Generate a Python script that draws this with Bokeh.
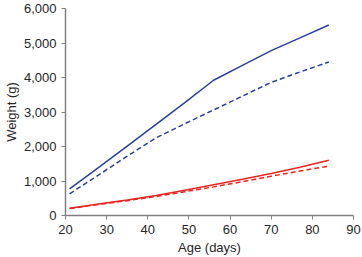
from bokeh.plotting import figure
from bokeh.models import Range1d, NumeralTickFormatter, FixedTicker, Title
from bokeh.embed import file_html
from bokeh.resources import INLINE

days = [21, 28, 35, 42, 49, 56, 63, 70, 77, 84]
blue_solid = [770, 1390, 2010, 2640, 3270, 3920, 4350, 4780, 5150, 5520]
blue_dashed = [630, 1170, 1720, 2250, 2660, 3060, 3460, 3860, 4160, 4450]
red_solid = [210, 330, 450, 580, 730, 890, 1050, 1220, 1400, 1600]
red_dashed = [200, 320, 430, 550, 690, 830, 980, 1140, 1290, 1430]
x_ticks = [20, 30, 40, 50, 60, 70, 80, 90]
y_ticks = [0, 1000, 2000, 3000, 4000, 5000, 6000]
x_title = "Age (days)"
y_title = "Weight (g)"

BLUE = "#2b3ea0"
RED = "#e8261f"
TXT = "#262626"

p = figure(width=362, height=257, output_backend="svg", toolbar_location=None,
           x_range=Range1d(20, 90), y_range=Range1d(0, 6000),
           min_border_left=64, min_border_right=9, min_border_top=8, min_border_bottom=42)
p.outline_line_color = None
p.grid.grid_line_color = None
p.background_fill_color = "white"
p.border_fill_color = "white"

p.line(days, blue_solid, line_color=BLUE, line_width=1.5)
p.line(days, blue_dashed, line_color=BLUE, line_width=1.5, line_dash="5 3")
p.line(days, red_solid, line_color=RED, line_width=1.5)
p.line(days, red_dashed, line_color=RED, line_width=1.5, line_dash="5 3")

for ax in (p.xaxis[0], p.yaxis[0]):
    ax.axis_line_color = "#808080"
    ax.axis_line_width = 1.5
    ax.major_tick_line_color = "#808080"
    ax.major_tick_line_width = 1
    ax.major_tick_out = 4
    ax.major_tick_in = 0
    ax.minor_tick_line_color = None
    ax.major_label_text_font = "Liberation Sans"
    ax.major_label_text_font_size = "13px"
    ax.major_label_text_color = TXT
    ax.major_label_standoff = 5

p.xaxis.ticker = FixedTicker(ticks=x_ticks)
p.yaxis.ticker = FixedTicker(ticks=y_ticks)
p.yaxis.formatter = NumeralTickFormatter(format="0,0")

for txt, loc, so in ((x_title, "below", 2), (y_title, "left", 3)):
    p.add_layout(Title(text=txt, align="center", standoff=so,
                       text_font="Liberation Sans", text_font_size="13px",
                       text_font_style="normal", text_color=TXT), loc)

open("out.html", "w").write(file_html(p, INLINE))
